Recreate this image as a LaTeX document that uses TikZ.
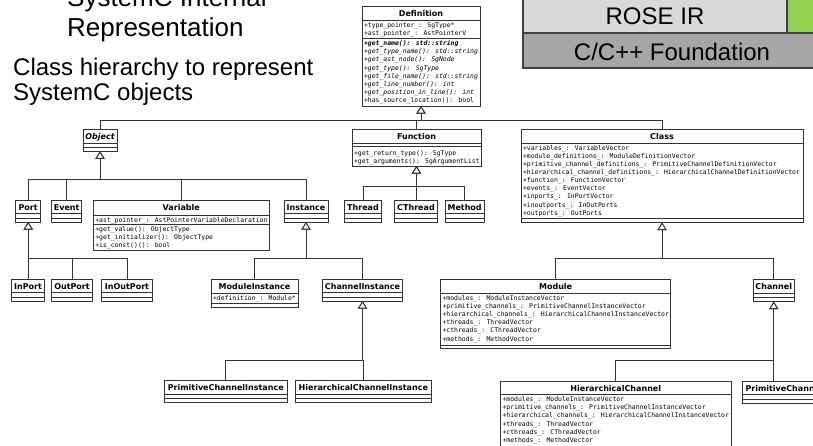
\documentclass[tikz,border=0pt]{standalone}
\usepackage{fontspec}
\setmainfont{Liberation Sans}
\newfontfamily\umlsans{DejaVu Sans}
\newfontfamily\umlmono{DejaVu Sans Mono}
\usetikzlibrary{arrows.meta}

\definecolor{umlline}{HTML}{333333}
\definecolor{roseir}{HTML}{D9D9D9}
\definecolor{foundation}{HTML}{A6A6A6}
\definecolor{greenlayer}{HTML}{92D050}
\definecolor{layerline}{HTML}{404040}

\tikzset{
  umlbox/.style={draw=umlline, fill=white, line width=0.8pt, inner sep=0pt,
    outer sep=0pt, anchor=north west},
  umltitle/.style={font=\umlsans\bfseries\fontsize{8}{9}\selectfont,
    inner sep=0pt, anchor=base},
  umlrow/.style={font=\umlmono\fontsize{6.45}{7}\selectfont, inner sep=0pt,
    anchor=base west},
  umlsepline/.style={draw=umlline, line width=0.7pt},
  inherit/.style={draw=umlline, line width=0.9pt,
    -{Triangle[open, width=9pt, length=7.5pt, fill=white]}},
  layer/.style={draw=layerline, line width=1.5pt},
  layertext/.style={font=\fontsize{24}{28}\selectfont, inner sep=0pt, anchor=base},
  headtext/.style={font=\fontsize{26}{30}\selectfont, inner sep=0pt, anchor=base west},
  subtext/.style={font=\fontsize{24}{27}\selectfont, inner sep=0pt, anchor=base west},
}

% class box: name, x, y, width, height, title
\newcommand\umlclass[6]{%
  \node[umlbox, minimum width=#4pt, minimum height=#5pt] (#1) at (#2,#3) {};
  \node[umltitle] (#1-name) at ([yshift=-10pt]#1.north) {#6};}
% compartment line at a given depth below the top of a box
\newcommand\umlsep[2]{%
  \draw[umlsepline] ([yshift=-#2pt]#1.north west) -- ([yshift=-#2pt]#1.north east);}
% one member line: box, index, baseline depth, text
\newcommand\umlrow[4]{%
  \node[umlrow] (#1-r#2) at ([xshift=1.8pt,yshift=-#3pt]#1.north west) {#4};}
% class with only a name and two empty compartments
\newcommand\umlempty[6]{%
  \umlclass{#1}{#2}{#3}{#4}{#5}{#6}\umlsep{#1}{13.8}\umlsep{#1}{18}}

\begin{document}
\begin{tikzpicture}[x=1pt, y=-1pt]
\useasboundingbox (0,0) rectangle (813,445);
\fill[white] (0,0) rectangle (813,445);

% ---- heading text ----
\node[headtext] (head1) at (67,6) {SystemC Internal};
\node[headtext] (head2) at (67,36) {Representation};
\node[subtext] (sub1) at (13,75) {Class hierarchy to represent};
\node[subtext] (sub2) at (13,100) {SystemC objects};

% ---- layer stack ----
\filldraw[layer, fill=greenlayer] (787,-5) rectangle (830,33);
\filldraw[layer, fill=roseir] (523,-5) rectangle (787,33);
\filldraw[layer, fill=foundation] (523,33) rectangle (830,68);
\node[layertext] (rose-label) at (655,24) {ROSE IR};
\node[layertext] (found-label) at (672,60) {C/C++ Foundation};

% ---- Definition ----
\umlclass{def}{362}{6}{118}{100}{Definition}
\umlsep{def}{14.5}
\umlsep{def}{32.3}
\umlrow{def}{1}{21.3}{+type\_pointer\_: SgType*}
\umlrow{def}{2}{29.6}{+ast\_pointer\_: AstPointerV}
\umlrow{def}{3}{39.6}{\bfseries\itshape +get\_name(): std::string}
\umlrow{def}{4}{47.75}{\itshape +get\_type\_name(): std::string}
\umlrow{def}{5}{55.9}{\itshape +get\_ast\_node(): SgNode}
\umlrow{def}{6}{64.05}{\itshape +get\_type(): SgType}
\umlrow{def}{7}{72.2}{\itshape +get\_file\_name(): std::string}
\umlrow{def}{8}{80.35}{\itshape +get\_line\_number(): int}
\umlrow{def}{9}{88.5}{\itshape +get\_position\_in\_line(): int}
\umlrow{def}{10}{96.65}{+has\_source\_location(): bool}

% ---- second level ----
\umlempty{obj}{83}{129.3}{34}{22}{\itshape Object}

\umlclass{func}{352}{129}{129}{37}{Function}
\umlsep{func}{14}
\umlsep{func}{17.7}
\umlrow{func}{1}{26}{+get\_return\_type(): SgType}
\umlrow{func}{2}{34}{+get\_arguments(): SgArgumentList}

\umlclass{cls}{521}{129.5}{282}{93}{Class}
\umlsep{cls}{14}
\umlsep{cls}{88.5}
\umlrow{cls}{1}{20.8}{+variables\_: VariableVector}
\umlrow{cls}{2}{28.9}{+module\_definitions\_: ModuleDefinitionVector}
\umlrow{cls}{3}{37}{+primitive\_channel\_definitions\_: PrimitiveChannelDefinitionVector}
\umlrow{cls}{4}{45.1}{+hierarchical\_channel\_definitions\_: HierarchicalChannelDefinitionVector}
\umlrow{cls}{5}{53.2}{+function\_: FunctionVector}
\umlrow{cls}{6}{61.3}{+events\_: EventVector}
\umlrow{cls}{7}{69.4}{+inports\_: InPortVector}
\umlrow{cls}{8}{77.5}{+inoutports\_: InOutPorts}
\umlrow{cls}{9}{85.6}{+outports\_: OutPorts}

% ---- third level ----
\umlempty{port}{15.7}{200}{25}{22}{Port}
\umlempty{event}{51.7}{200}{30}{22}{Event}

\umlclass{var}{93.3}{200}{176}{50}{Variable}
\umlsep{var}{15}
\umlsep{var}{24}
\umlrow{var}{1}{22}{+ast\_pointer\_: AstPointerVariableDeclaration}
\umlrow{var}{2}{31.6}{+get\_value(): ObjectType}
\umlrow{var}{3}{39.6}{+get\_initializer(): ObjectType}
\umlrow{var}{4}{47.6}{+is\_const()(): bool}

\umlempty{inst}{284}{200}{44}{22}{Instance}
\umlempty{thread}{344.3}{200}{37.4}{22}{Thread}
\umlempty{cthread}{394.3}{200}{43.4}{22}{CThread}
\umlempty{method}{445}{200}{39.3}{22}{Method}

% ---- fourth level ----
\umlempty{inport}{11.7}{279}{32.6}{22.5}{InPort}
\umlempty{outport}{51.7}{279}{40.6}{22.5}{OutPort}
\umlempty{inoutport}{101.7}{279}{50.6}{22.5}{InOutPort}

\umlclass{modinst}{211}{279}{87}{28.3}{ModuleInstance}
\umlsep{modinst}{14.3}
\umlsep{modinst}{24.3}
\umlrow{modinst}{1}{21.6}{+definition\_: Module*}

\umlempty{chinst}{322.3}{279}{80.4}{22}{ChannelInstance}

\umlclass{module}{440.5}{279.5}{230.2}{68.5}{Module}
\umlsep{module}{13.8}
\umlsep{module}{65.5}
\umlrow{module}{1}{20.5}{+modules\_: ModuleInstanceVector}
\umlrow{module}{2}{28.7}{+primitive\_channels\_: PrimitiveChannelInstanceVector}
\umlrow{module}{3}{36.9}{+hierarchical\_channels\_: HierarchicalChannelInstanceVector}
\umlrow{module}{4}{45.1}{+threads\_: ThreadVector}
\umlrow{module}{5}{53.3}{+cthreads\_: CThreadVector}
\umlrow{module}{6}{61.5}{+methods\_: MethodVector}

\umlempty{chan}{753}{279.5}{41.5}{22}{Channel}

% ---- fifth level ----
\umlempty{pchinst}{164.5}{380.7}{122.5}{22}{PrimitiveChannelInstance}
\umlempty{hchinst}{295.7}{380.7}{135.3}{22}{HierarchicalChannelInstance}

\umlclass{hchan}{500.5}{381}{230.5}{68.5}{HierarchicalChannel}
\umlsep{hchan}{13.8}
\umlsep{hchan}{65.5}
\umlrow{hchan}{1}{20.5}{+modules\_: ModuleInstanceVector}
\umlrow{hchan}{2}{28.7}{+primitive\_channels\_: PrimitiveChannelInstanceVector}
\umlrow{hchan}{3}{36.9}{+hierarchical\_channels\_: HierarchicalChannelInstanceVector}
\umlrow{hchan}{4}{45.1}{+threads\_: ThreadVector}
\umlrow{hchan}{5}{53.3}{+cthreads\_: CThreadVector}
\umlrow{hchan}{6}{61.5}{+methods\_: MethodVector}

\umlempty{pchan}{742.7}{381}{83}{22}{PrimitiveChannel}

% ---- bus points of the generalisation trees ----
\coordinate (def-bus) at (def.south |- 0,120);
\coordinate (obj-bus) at (obj.south |- 0,179.3);
\coordinate (func-bus) at (func.south |- 0,186.7);
\coordinate (port-bus) at (port.south |- 0,258.3);
\coordinate (inst-bus) at (inst.south |- 0,258.3);
\coordinate (chinst-bus) at (chinst.south |- 0,360);
\coordinate (cls-bus) at (cls.south |- 0,258.3);
\coordinate (chan-bus) at (chan.south |- 0,360);

% ---- generalisations ----
\foreach \child in {obj, func, cls}
  \draw[inherit] (\child.north) |- (def-bus) -- (def.south);
\foreach \child in {port, event, var, inst}
  \draw[inherit] (\child.north) |- (obj-bus) -- (obj.south);
\foreach \child in {thread, cthread, method}
  \draw[inherit] (\child.north) |- (func-bus) -- (func.south);
\foreach \child in {inport, outport, inoutport}
  \draw[inherit] (\child.north) |- (port-bus) -- (port.south);
\foreach \child in {modinst, chinst}
  \draw[inherit] (\child.north) |- (inst-bus) -- (inst.south);
\foreach \child in {pchinst, hchinst}
  \draw[inherit] (\child.north) |- (chinst-bus) -- (chinst.south);
\foreach \child in {module, chan}
  \draw[inherit] (\child.north) |- (cls-bus) -- (cls.south);
\draw[inherit] (hchan.north) |- (chan-bus) -- (chan.south);
\draw[inherit] (pchan.north -| chan.south) -- (chan.south);
\end{tikzpicture}
\end{document}
